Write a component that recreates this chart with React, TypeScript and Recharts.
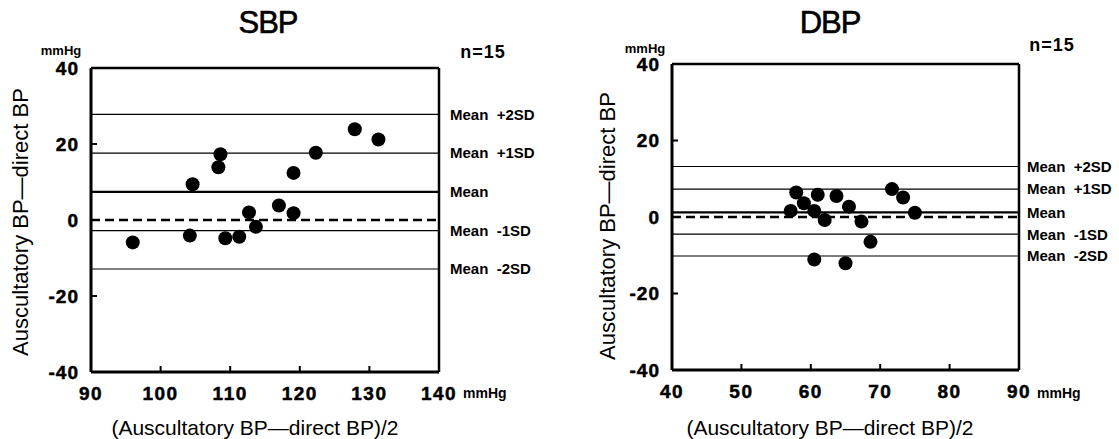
import { ScatterChart, Scatter, XAxis, YAxis, ReferenceLine } from 'recharts';

// SBP panel
const sbpX = [96.0, 104.2, 104.6, 108.3, 108.6, 109.3, 111.3, 112.7, 113.7, 117.0, 119.1, 119.1, 122.3, 127.9, 131.3];
const sbpY = [-5.9, -4.1, 9.4, 13.9, 17.3, -4.8, -4.4, 2.0, -1.8, 3.8, 12.4, 1.8, 17.7, 23.9, 21.2];
const sbpXTicks = [90, 100, 110, 120, 130, 140];
const sbpLines = [27.8, 17.6, 7.4, -2.8, -12.9];

// DBP panel
const dbpX = [57.1, 57.9, 59.0, 60.5, 60.5, 61.0, 62.0, 63.7, 65.5, 65.0, 67.3, 68.6, 71.7, 73.3, 75.0];
const dbpY = [1.6, 6.4, 3.6, 1.6, -11.1, 5.8, -0.8, 5.5, 2.7, -12.1, -1.2, -6.5, 7.3, 5.1, 1.1];
const dbpXTicks = [40, 50, 60, 70, 80, 90];
const dbpLines = [13.2, 7.3, 1.2, -4.5, -10.2];

const yTicks = [-40, -20, 0, 20, 40];
const lineLabels = ['Mean\u00a0\u00a0+2SD', 'Mean\u00a0\u00a0+1SD', 'Mean', 'Mean\u00a0\u00a0-1SD', 'Mean\u00a0\u00a0-2SD'];

const FONT = '"Liberation Sans", Arial, Helvetica, sans-serif';

const Dot = (p: any) => <circle cx={p.cx} cy={p.cy} r={7} fill="#000" />;

// heavy tick labels like the scanned figure
const XTick = (p: any) => (
  <text x={p.x} y={p.y} dy="0.71em" textAnchor="middle" fill="#000" stroke="#000" strokeWidth={0.5}
    fontSize={19} fontWeight="bold" letterSpacing={1.5}>
    {p.payload.value}
  </text>
);
const YTick = (p: any) => (
  <text x={p.x} y={p.y} dy="0.36em" textAnchor="end" fill="#000" stroke="#000" strokeWidth={0.5}
    fontSize={19} fontWeight="bold" letterSpacing={1}>
    {p.payload.value}
  </text>
);

interface PanelProps {
  xs: number[];
  ys: number[];
  xTicks: number[];
  lines: number[];
  width: number;
  left: number;
  right: number;
  top: number;
  bottom: number;
  labelOffset: number;
}

function Panel({ xs, ys, xTicks, lines, width, left, right, top, bottom, labelOffset }: PanelProps) {
  const data = xs.map((x, i) => ({ x, y: ys[i] }));
  const domainX = [xTicks[0], xTicks[xTicks.length - 1]];
  return (
    <ScatterChart width={width} height={439} margin={{ top: 0, right: 0, bottom: 0, left: 0 }}>
      <XAxis
        type="number" dataKey="x" domain={domainX} ticks={xTicks} interval={0}
        height={bottom} tickSize={-6} tickMargin={21}
        axisLine={{ stroke: '#000', strokeWidth: 3 }} tickLine={{ stroke: '#000', strokeWidth: 2 }}
        tick={<XTick />}
      />
      <XAxis
        xAxisId="top" orientation="top" type="number" domain={domainX} ticks={[]}
        height={top} tick={false} tickLine={false}
        axisLine={{ stroke: '#000', strokeWidth: 2.5 }}
      />
      <YAxis
        type="number" dataKey="y" domain={[-40, 40]} ticks={yTicks} interval={0}
        width={left} tickSize={-6} tickMargin={18}
        axisLine={{ stroke: '#000', strokeWidth: 3 }} tickLine={{ stroke: '#000', strokeWidth: 2 }}
        tick={<YTick />}
      />
      <YAxis
        yAxisId="right" orientation="right" type="number" domain={[-40, 40]} ticks={[]}
        width={right} tick={false} tickLine={false}
        axisLine={{ stroke: '#000', strokeWidth: 2.5 }}
      />
      {lines.map((v, i) => (
        <ReferenceLine
          key={i} y={v} stroke="#000" strokeWidth={i === 2 ? 2.2 : 1.2}
          label={{ value: lineLabels[i], position: 'right', offset: labelOffset, fill: '#000', fontSize: 15, fontWeight: 'bold' }}
        />
      ))}
      <ReferenceLine y={0} stroke="#000" strokeWidth={2.5} strokeDasharray="9 5" />
      <Scatter data={data} shape={Dot} isAnimationActive={false} />
    </ScatterChart>
  );
}

export default function App() {
  return (
    <div style={{ position: 'absolute', left: 0, top: 0, width: 1119, height: 439, background: '#fff', fontFamily: FONT }}>
      <div style={{ position: 'absolute', left: 0, top: 0 }}>
        <Panel xs={sbpX} ys={sbpY} xTicks={sbpXTicks} lines={sbpLines}
          width={560} left={91} right={121} top={68} bottom={67} labelOffset={11} />
      </div>
      <div style={{ position: 'absolute', left: 560, top: 0 }}>
        <Panel xs={dbpX} ys={dbpY} xTicks={dbpXTicks} lines={dbpLines}
          width={559} left={112} right={100} top={64} bottom={69} labelOffset={8} />
      </div>
      <svg width={1119} height={439} style={{ position: 'absolute', left: 0, top: 0, pointerEvents: 'none', fontFamily: FONT }}>
        <text x={268} y={22} textAnchor="middle" dominantBaseline="central" fontSize={31} letterSpacing={-1} stroke="#000" strokeWidth={0.6}>SBP</text>
        <text x={830} y={22} textAnchor="middle" dominantBaseline="central" fontSize={31} letterSpacing={-1} stroke="#000" strokeWidth={0.6}>DBP</text>
        <text x={61} y={50} textAnchor="middle" dominantBaseline="central" fontSize={13} fontWeight="bold">mmHg</text>
        <text x={645} y={48} textAnchor="middle" dominantBaseline="central" fontSize={13} fontWeight="bold">mmHg</text>
        <text x={483} y={52} textAnchor="middle" dominantBaseline="central" fontSize={18} fontWeight="bold" letterSpacing={1}>n=15</text>
        <text x={1052} y={45} textAnchor="middle" dominantBaseline="central" fontSize={18} fontWeight="bold" letterSpacing={1}>n=15</text>
        <text transform="translate(20,222) rotate(-90)" textAnchor="middle" dominantBaseline="central" fontSize={22}>Auscultatory BP—direct BP</text>
        <text transform="translate(607,226) rotate(-90)" textAnchor="middle" dominantBaseline="central" fontSize={22}>Auscultatory BP—direct BP</text>
        <text x={255} y={427} textAnchor="middle" dominantBaseline="central" fontSize={21}>(Auscultatory BP—direct BP)/2</text>
        <text x={830} y={427} textAnchor="middle" dominantBaseline="central" fontSize={21}>(Auscultatory BP—direct BP)/2</text>
        <text x={463} y={393} dominantBaseline="central" fontSize={14} fontWeight="bold">mmHg</text>
        <text x={1037} y={393} dominantBaseline="central" fontSize={14} fontWeight="bold">mmHg</text>
      </svg>
    </div>
  );
}
